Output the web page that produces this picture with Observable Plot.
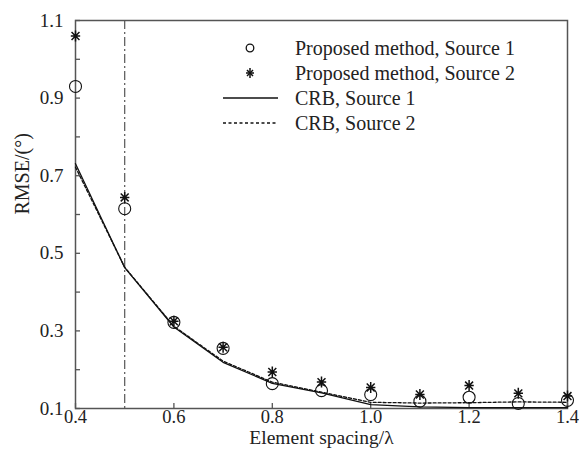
<!DOCTYPE html>
<html>
<head>
<meta charset="utf-8">
<script src="https://cdn.jsdelivr.net/npm/d3@7"></script>
<script src="https://cdn.jsdelivr.net/npm/@observablehq/plot@0.6"></script>
<style>
  body { margin: 0; background: #fff; }
  #wrap { position: relative; width: 579px; height: 453px; font-family: "Liberation Serif", "DejaVu Serif", serif; }
  #legend { position: absolute; left: 220px; top: 35.5px; font-size: 20px; color: #222; }
  .row { display: flex; align-items: center; height: 25px; line-height: 25px; white-space: nowrap; }
  .sym { width: 60px; height: 20px; margin-right: 15px; flex: none; }
</style>
</head>
<body>
<div id="wrap"></div>
<script>
const spacing = [0.4, 0.5, 0.6, 0.7, 0.8, 0.9, 1.0, 1.1, 1.2, 1.3, 1.4];
const proposed1 = [0.930, 0.615, 0.322, 0.255, 0.164, 0.146, 0.136, 0.119, 0.129, 0.113, 0.121];
const proposed2 = [1.060, 0.644, 0.325, 0.258, 0.194, 0.168, 0.154, 0.136, 0.159, 0.139, 0.132];
const crb1 = [0.731, 0.463, 0.310, 0.219, 0.165, 0.140, 0.110, 0.104, 0.102, 0.102, 0.102];
const crb2 = [0.722, 0.464, 0.312, 0.222, 0.168, 0.142, 0.116, 0.114, 0.115, 0.117, 0.116];
const threshold = [0.5];
const xTickLabels = [0.4, 0.6, 0.8, 1.0, 1.2, 1.4];
const yTickLabels = [0.1, 0.3, 0.5, 0.7, 0.9, 1.1];
const yTicksAll = [0.1, 0.2, 0.3, 0.4, 0.5, 0.6, 0.7, 0.8, 0.9, 1.0, 1.1];
const seriesNames = ["Proposed method, Source 1", "Proposed method, Source 2", "CRB, Source 1", "CRB, Source 2"];
const xTitle = "Element spacing/λ";
const yTitle = "RMSE/(°)";

const W = 579, H = 453, ML = 75, MR = 12, MT = 20, MB = 45;
const innerW = W - ML - MR, innerH = H - MT - MB, tickLen = 5;
const xDomain = [0.4, 1.4], yDomain = [0.1, 1.1];
// length of an inward tick expressed in data units of each scale
const xTickData = (xDomain[1] - xDomain[0]) * tickLen / innerW;
const yTickData = (yDomain[1] - yDomain[0]) * tickLen / innerH;

const rows = (ys) => spacing.map((x, i) => ({x, y: ys[i]}));
const fmt = d3.format(".1f");

const star8 = {
  draw(ctx, size) {
    const r = Math.sqrt(size / Math.PI);
    const d = r * 0.72;
    ctx.moveTo(0, -r); ctx.lineTo(0, r);
    ctx.moveTo(-r * 0.85, 0); ctx.lineTo(r * 0.85, 0);
    ctx.moveTo(-d, -d); ctx.lineTo(d, d);
    ctx.moveTo(-d, d); ctx.lineTo(d, -d);
  }
};

const chart = Plot.plot({
  width: W,
  height: H,
  marginLeft: ML,
  marginRight: MR,
  marginTop: MT,
  marginBottom: MB,
  x: {domain: xDomain},
  y: {domain: yDomain},
  style: {fontFamily: "Liberation Serif, DejaVu Serif, serif", fontSize: "19px", color: "#222", background: "#fff"},
  marks: [
    Plot.axisX({ticks: xTickLabels, tickSize: 0, tickPadding: 1, tickFormat: fmt, label: null, fontSize: 18.5}),
    Plot.axisY({ticks: yTickLabels, tickSize: 0, tickPadding: 12, tickFormat: fmt, label: null, fontSize: 19}),
    Plot.ruleY(yTicksAll, {y: d => d, x1: xDomain[0], x2: xDomain[0] + xTickData, stroke: "#555", strokeWidth: 1.3}),
    Plot.ruleX(xTickLabels, {x: d => d, y1: yDomain[0], y2: yDomain[0] + yTickData, stroke: "#555", strokeWidth: 1.3}),
    Plot.frame({stroke: "#555", strokeWidth: 1.5}),
    Plot.ruleX(threshold, {stroke: "#555", strokeWidth: 1.2, strokeDasharray: "9,3,2,3"}),
    Plot.line(rows(crb1), {x: "x", y: "y", stroke: "#111", strokeWidth: 1.3}),
    Plot.line(rows(crb2), {x: "x", y: "y", stroke: "#111", strokeWidth: 1.3, strokeDasharray: "3,2"}),
    Plot.dot(rows(proposed1), {x: "x", y: "y", r: 6, stroke: "#111", strokeWidth: 1.1, fill: "none"}),
    Plot.dot(rows(proposed2), {x: "x", y: "y", r: 5.5, symbol: star8, stroke: "#111", strokeWidth: 1.5}),
    Plot.text([xTitle], {frameAnchor: "bottom", dy: 35.5, fontSize: 19.5, fill: "#222"}),
    Plot.text([yTitle], {frameAnchor: "left", dx: -53, dy: 0, rotate: -90, fontSize: 20, fill: "#222"})
  ]
});

const wrap = document.getElementById("wrap");
wrap.appendChild(chart);

const legend = document.createElement("div");
legend.id = "legend";
const syms = [
  '<svg class="sym" viewBox="0 0 60 20"><circle cx="30" cy="10" r="3.8" fill="none" stroke="#111" stroke-width="1.3"/></svg>',
  '<svg class="sym" viewBox="0 0 60 20"><g stroke="#111" stroke-width="1.5"><line x1="30" y1="5" x2="30" y2="15"/><line x1="26" y1="10" x2="34" y2="10"/><line x1="27" y1="7" x2="33" y2="13"/><line x1="27" y1="13" x2="33" y2="7"/></g></svg>',
  '<svg class="sym" viewBox="0 0 60 20"><line x1="3" y1="10" x2="58" y2="10" stroke="#111" stroke-width="1.4"/></svg>',
  '<svg class="sym" viewBox="0 0 60 20"><line x1="3" y1="10" x2="56" y2="10" stroke="#111" stroke-width="1.3" stroke-dasharray="3,2.5"/></svg>'
];
seriesNames.forEach((name, i) => {
  const row = document.createElement("div");
  row.className = "row";
  row.innerHTML = syms[i] + "<span>" + name + "</span>";
  legend.appendChild(row);
});
wrap.appendChild(legend);
</script>
</body>
</html>
